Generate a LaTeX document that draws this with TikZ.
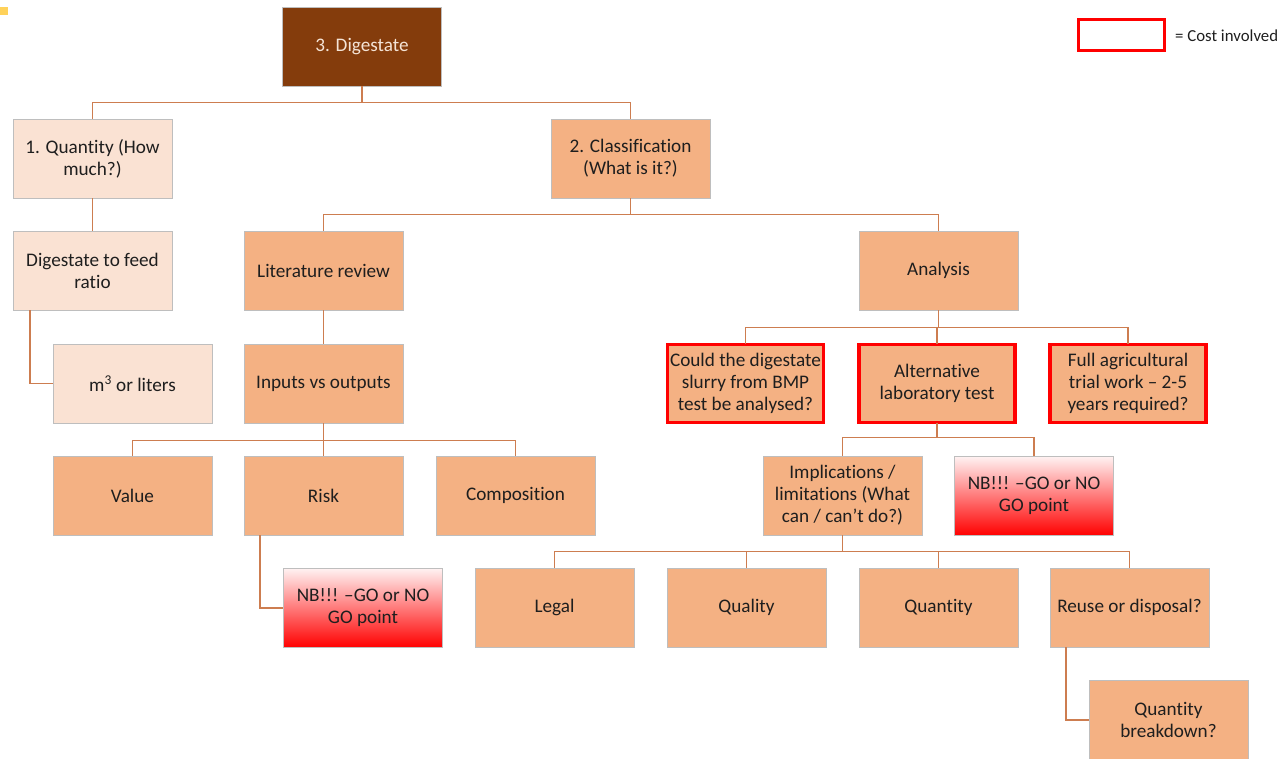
\documentclass[tikz,border=0pt]{standalone}
\usepackage{fontspec}
\setmainfont[Ligatures={TeX,NoCommon}]{Carlito}
\usetikzlibrary{positioning}
\definecolor{dark}{RGB}{132,60,12}
\definecolor{mid}{RGB}{244,177,131}
\definecolor{light}{RGB}{250,226,211}
\definecolor{conn}{RGB}{205,125,80}
\definecolor{bord}{RGB}{190,190,190}
\definecolor{txt}{RGB}{30,30,30}
\tikzset{
  box/.style={draw=bord, line width=0.8pt, fill=mid, minimum width=159pt, minimum height=79pt,
    align=center, text=txt, font=\fontsize{19.2}{22}\selectfont, inner sep=2pt},
  lbox/.style={box, fill=light},
  topbox/.style={box, fill=dark, text={rgb,255:red,245;green,228;blue,214}},
  costbox/.style={box, draw=red, line width=3.5pt},
  nbbox/.style={box, top color={rgb,255:red,255;green,242;blue,242}, bottom color=red},
  conn/.style={draw=conn, line width=1.3pt},
}
\begin{document}
\begin{tikzpicture}[x=1pt,y=-1pt]
\useasboundingbox (0,0) rectangle (1280,759);
\fill[fill={rgb,255:red,255;green,210;blue,90}] (0,7) rectangle (8,15);

% legend
\node[draw=red, line width=3.5pt, minimum width=86pt, minimum height=31pt, inner sep=0pt] (leg) at (1121.5,35) {};
\node[anchor=west, font=\fontsize{16.8}{20}\selectfont, text=txt, inner sep=0pt] (legt) at (1175,36) {= Cost involved};

\node[topbox] (dig) at (362,46.5) {3. Digestate};
\node[lbox] (qty) at (92.5,158.5) {1. Quantity (How\\much?)};
\node[box] (cls) at (630.5,158.5) {2. Classification\\(What is it?)};
\node[lbox] (ratio) at (92.5,270.5) {Digestate to feed\\ratio};
\node[lbox] (m3) at (132.5,383.5) {m\textsuperscript{3} or liters};
\node[box] (lit) at (323.5,270.5) {Literature review};
\node[box] (ana) at (938.5,270.5) {Analysis};
\node[box] (inout) at (323.5,383.5) {Inputs vs outputs};
\node[costbox, minimum width=156pt, minimum height=78pt] (bmp) at (745.5,383.5) {Could the digestate\\slurry from BMP\\test be analysed?};
\node[costbox, minimum width=156pt, minimum height=78pt] (alt) at (937,383.5) {Alternative\\laboratory test};
\node[costbox, minimum width=156pt, minimum height=78pt] (full) at (1128,383.5) {Full agricultural\\trial work – 2-5\\years required?};
\node[box] (val) at (132.5,495.5) {Value};
\node[box] (risk) at (323.5,495.5) {Risk};
\node[box] (comp) at (515.5,495.5) {Composition};
\node[box] (impl) at (842.5,495.5) {Implications /\\limitations (What\\can / can’t do?)};
\node[nbbox] (nbr) at (1034,496) {NB!!! –GO or NO\\GO point};
\node[nbbox] (nbl) at (363,608) {NB!!! –GO or NO\\GO point};
\node[box] (legal) at (554.5,607.5) {Legal};
\node[box] (qual) at (746.5,607.5) {Quality};
\node[box] (quant) at (938.5,607.5) {Quantity};
\node[box] (reuse) at (1129.5,607.5) {Reuse or disposal?};
\node[box] (qbd) at (1168.5,720) {Quantity\\breakdown?};

% connectors
\draw[conn] (dig.south) -- ++(0,16) -| (qty.north);
\draw[conn] (dig.south) -- ++(0,16) -| (cls.north);
\draw[conn] (qty.south) -- (ratio.north);
\coordinate (rs) at ([xshift=-62.5pt]ratio.south);
\draw[conn] (rs) |- (m3.west);
\draw[conn] (cls.south) -- ++(0,16) -| (lit.north);
\draw[conn] (cls.south) -- ++(0,16) -| (ana.north);
\draw[conn] (lit.south) -- (inout.north);
\draw[conn] (inout.south) -- ++(0,17) -| (val.north);
\draw[conn] (inout.south) -- (risk.north);
\draw[conn] (inout.south) -- ++(0,17) -| (comp.north);
\coordinate (rks) at ([xshift=-63.5pt]risk.south);
\draw[conn] (rks) |- (nbl.west);
\draw[conn] (ana.south) -- ++(0,17) -| ([yshift=-1.75pt]bmp.north);
\draw[conn] (ana.south) -- ++(0,17) -| ([yshift=-1.75pt]alt.north);
\draw[conn] (ana.south) -- ++(0,17) -| ([yshift=-1.75pt]full.north);
\draw[conn] ([yshift=1.75pt]alt.south) -- ++(0,15) -| (impl.north);
\draw[conn] ([yshift=1.75pt]alt.south) -- ++(0,15) -| (nbr.north);
\draw[conn] (impl.south) -- ++(0,16) -| (legal.north);
\draw[conn] (impl.south) -- ++(0,16) -| (qual.north);
\draw[conn] (impl.south) -- ++(0,16) -| (quant.north);
\draw[conn] (impl.south) -- ++(0,16) -| (reuse.north);
\coordinate (res) at ([xshift=-63.5pt]reuse.south);
\draw[conn] (res) |- (qbd.west);
\end{tikzpicture}
\end{document}
